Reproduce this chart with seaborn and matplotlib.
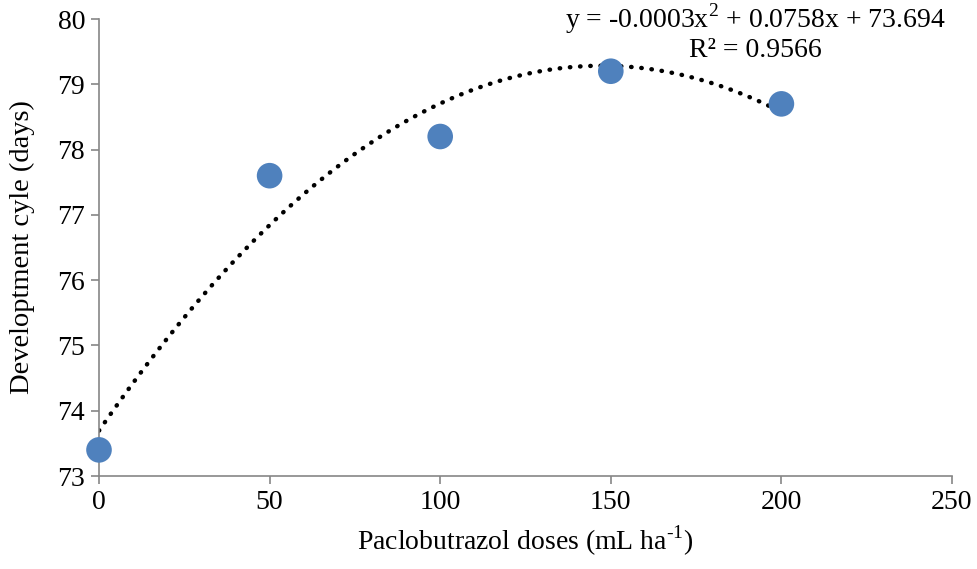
import numpy as np
import pandas as pd
import matplotlib
matplotlib.use("Agg")
import matplotlib.pyplot as plt
import seaborn as sns

doses = [0, 50, 100, 150, 200]
cycle = [73.4, 77.6, 78.2, 79.2, 78.7]
x_ticks = [0, 50, 100, 150, 200, 250]
y_ticks = [73, 74, 75, 76, 77, 78, 79, 80]
eq_label = "y = -0.0003x$^2$ + 0.0758x + 73.694"
r2_label = "R² = 0.9566"

sns.set_theme(style="white")
plt.rcParams['font.family'] = ['Liberation Serif', 'DejaVu Serif']
plt.rcParams['mathtext.fontset'] = 'custom'
plt.rcParams['mathtext.rm'] = 'Liberation Serif'
plt.rcParams['text.color'] = 'black'
plt.rcParams['axes.labelcolor'] = 'black'

df = pd.DataFrame({"dose": doses, "cycle": cycle})

fig = plt.figure(figsize=(9.77, 5.69), dpi=100)
ax = fig.add_axes([99 / 977, 1 - 476 / 569, (952 - 99) / 977, (476 - 19) / 569])

# quadratic trend line from the data
coef = np.polyfit(df["dose"], df["cycle"], 2)
xs = np.linspace(0, 200, 200)
ax.plot(xs, np.polyval(coef, xs), color="black", linestyle=(0, (0.1, 2.2)),
        linewidth=3.2, dash_capstyle="round", zorder=2)

sns.scatterplot(data=df, x="dose", y="cycle", ax=ax, s=340, color="#4f81bd",
                edgecolor="none", zorder=3, clip_on=False)

ax.set_xlim(0, 250)
ax.set_ylim(73, 80)
ax.set_xticks(x_ticks)
ax.set_yticks(y_ticks)
ax.tick_params(bottom=True, left=True, labelsize=20, length=6, width=1.2,
               color="#868686", labelcolor="black", direction="out", pad=4)
for side in ["top", "right"]:
    ax.spines[side].set_visible(False)
for side in ["left", "bottom"]:
    ax.spines[side].set_color("#868686")
    ax.spines[side].set_linewidth(1.2)

ax.set_xlabel(r"Paclobutrazol doses (mL ha$^{\text{-}1}$)", fontsize=20, labelpad=6)
ax.set_ylabel("Developtment cyle (days)", fontsize=20.5, labelpad=16)

ax.text(0.77, 1.0, eq_label, transform=ax.transAxes, ha="center", va="center",
        fontsize=20)
ax.text(0.77, 0.93, r2_label, transform=ax.transAxes, ha="center", va="center",
        fontsize=20)

fig.savefig("out.png", dpi=100)
